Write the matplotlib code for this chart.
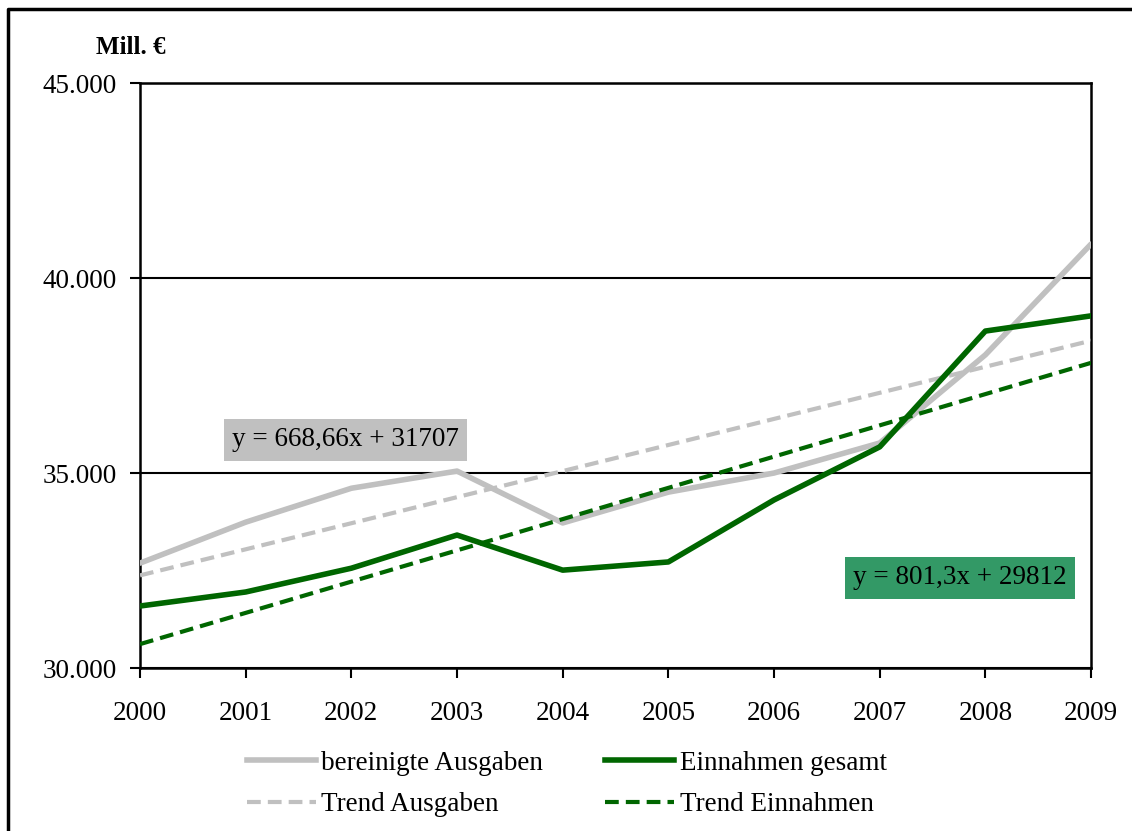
import matplotlib
matplotlib.use("Agg")
import matplotlib.pyplot as plt
from matplotlib.lines import Line2D

years = list(range(2000, 2010))
ausgaben = [32690, 33740, 34610, 35050, 33720, 34510, 35000, 35770, 38030, 40870]
einnahmen = [31590, 31950, 32560, 33410, 32510, 32720, 34310, 35670, 38640, 39030]
# trend coefficients as printed in the chart (x = 1..10)
trend_ausgaben = (668.66, 31707)
trend_einnahmen = (801.3, 29812)
y_ticks = [30000, 35000, 40000, 45000]
y_labels = ['30.000', '35.000', '40.000', '45.000']

plt.rcParams['font.family'] = ['Liberation Serif', 'DejaVu Serif']

c_grey = '#c0c0c0'
c_green = '#006600'
dash = (3.3, 1.7)

fig = plt.figure(figsize=(11.32, 8.31), dpi=100)
ax = fig.add_axes([0.1237, 0.1961, 0.8401, 0.7040])

xs = list(range(1, len(years) + 1))
t_aus = [trend_ausgaben[0] * x + trend_ausgaben[1] for x in xs]
t_ein = [trend_einnahmen[0] * x + trend_einnahmen[1] for x in xs]

ax.plot(years, ausgaben, color=c_grey, lw=4, solid_capstyle='round', zorder=3)
ax.plot(years, einnahmen, color=c_green, lw=4, solid_capstyle='round', zorder=4)
ax.plot(years, t_aus, color=c_grey, lw=3, dashes=dash, zorder=3)
ax.plot(years, t_ein, color=c_green, lw=3, dashes=dash, zorder=4)

ax.set_xlim(2000, 2009)
ax.set_ylim(30000, 45000)
ax.set_xticks(years)
ax.set_xticklabels([str(y) for y in years])
ax.set_yticks(y_ticks)
ax.set_yticklabels(y_labels)
ax.tick_params(labelsize=19.5, direction='out', length=7, width=1.5)
ax.tick_params(axis='x', pad=17)
ax.tick_params(axis='y', pad=10)
for s in ax.spines.values():
    s.set_linewidth(1.8)
ax.grid(axis='y', color='black', lw=1.5, zorder=1)

ax.text(2000.87, 35850, 'y = 668,66x + 31707', fontsize=19.5, va='center', ha='left',
        bbox=dict(boxstyle='square,pad=0.3', fc=c_grey, ec='none'), zorder=6)
ax.text(2006.75, 32310, 'y = 801,3x + 29812', fontsize=19.5, va='center', ha='left',
        bbox=dict(boxstyle='square,pad=0.3', fc='#339966', ec='none'), zorder=6)

fig.text(0.085, 0.943, 'Mill. €', fontsize=18, fontweight='bold', va='center', ha='left')

handles = [Line2D([], [], color=c_grey, lw=4),
           Line2D([], [], color=c_grey, lw=3, dashes=dash),
           Line2D([], [], color=c_green, lw=4),
           Line2D([], [], color=c_green, lw=3, dashes=dash)]
labels = ['bereinigte Ausgaben', 'Trend Ausgaben', 'Einnahmen gesamt', 'Trend Einnahmen']
fig.legend(handles, labels, loc='upper left', bbox_to_anchor=(0.218, 0.0963), ncol=2,
           frameon=False, fontsize=19.5, handlelength=2.55, handletextpad=0.2,
           columnspacing=2.3, labelspacing=0.6, borderaxespad=0, borderpad=0)

# outer frame (left and top edges visible)
fig.add_artist(Line2D([0.0075, 0.0075, 1.0], [0.0, 0.989, 0.989], color='black',
                      lw=2.5, transform=fig.transFigure))

fig.savefig('out.png', dpi=100)
